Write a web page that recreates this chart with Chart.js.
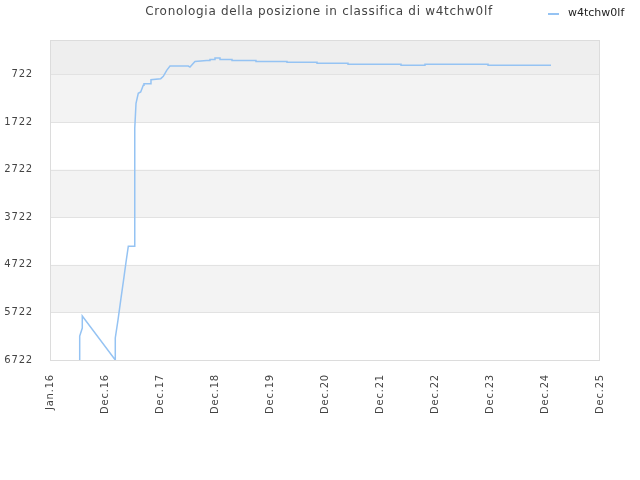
<!DOCTYPE html>
<html>
<head>
<meta charset="utf-8">
<script src="https://cdn.jsdelivr.net/npm/chart.js@4/dist/chart.umd.min.js"></script>
<style>
html,body{margin:0;padding:0;background:#fff;}
#wrap{width:640px;height:480px;}
</style>
</head>
<body>
<div id="wrap"><canvas id="c" width="640" height="480"></canvas></div>
<script>
const chartTitle = 'Cronologia della posizione in classifica di w4tchw0lf';
const seriesName = 'w4tchw0lf';
const xTickLabels = ['Jan.16','Dec.16','Dec.17','Dec.18','Dec.19','Dec.20','Dec.21','Dec.22','Dec.23','Dec.24','Dec.25'];
const yTickValues = [722,1722,2722,3722,4722,5722,6722];
const bandBounds = [0,722,1722,2722,3722,4722,5722,6722];
const bandColors = ['#eeeeee','#f3f3f3','#ffffff','#f3f3f3','#ffffff','#f3f3f3','#ffffff'];
// x in axis-label units (0 = Jan.16, 1 = Dec.16, ...), y = rank
const posX = [0.540,0.540,0.587,0.587,1.187,1.187,1.236,1.291,1.345,1.382,1.424,1.533,1.533,1.545,1.545,1.564,1.605,1.649,1.696,1.709,1.836,1.836,2.013,2.060,2.122,2.182,2.515,2.545,2.636,2.849,2.909,2.909,3.000,3.000,3.091,3.091,3.309,3.309,3.745,3.745,4.309,4.309,4.855,4.855,5.418,5.418,6.382,6.382,6.818,6.818,7.964,7.964,9.109];
const rank = [6722,6219,6051,5799,6722,6260,5883,5421,4981,4666,4330,4330,4204,4204,1855,1330,1120,1093,952,917,917,833,812,764,638,548,548,569,450,429,429,408,408,380,380,408,408,429,429,450,450,470,470,491,491,512,512,533,533,512,512,533,533];

const points = posX.map((x,i)=>({x:x,y:rank[i]}));

const bandsPlugin = {
  id:'bands',
  beforeDraw(chart){
    chart.ctx.letterSpacing = '0.8px';
  },
  beforeDatasetsDraw(chart){
    const {ctx, chartArea:a, scales:{y}} = chart;
    ctx.save();
    for(let i=0;i<bandColors.length;i++){
      const y1 = y.getPixelForValue(bandBounds[i]);
      const y2 = y.getPixelForValue(bandBounds[i+1]);
      ctx.fillStyle = bandColors[i];
      ctx.fillRect(a.left, Math.min(y1,y2), a.right-a.left, Math.abs(y2-y1));
    }
    ctx.strokeStyle = '#e2e2e2';
    ctx.lineWidth = 1;
    yTickValues.forEach(v=>{
      const py = Math.round(y.getPixelForValue(v))+0.5;
      ctx.beginPath(); ctx.moveTo(a.left,py); ctx.lineTo(a.right,py); ctx.stroke();
    });
    ctx.strokeStyle = '#dcdcdc';
    ctx.strokeRect(a.left+0.5, a.top+0.5, a.right-a.left-1, a.bottom-a.top);
    ctx.restore();
  },
  afterDraw(chart){
    const ctx = chart.ctx;
    ctx.save();
    ctx.letterSpacing = '0.7px';
    ctx.font = '12px "DejaVu Sans"';
    ctx.fillStyle = '#444';
    ctx.textAlign = 'center';
    ctx.textBaseline = 'middle';
    ctx.fillText(chartTitle, 319, 12);
    ctx.strokeStyle = '#95c3f3';
    ctx.lineWidth = 2;
    ctx.beginPath(); ctx.moveTo(548,14); ctx.lineTo(559,14); ctx.stroke();
    ctx.letterSpacing = '0px';
    ctx.font = '11px "DejaVu Sans"';
    ctx.fillStyle = '#222';
    ctx.textAlign = 'left';
    ctx.fillText(seriesName, 568, 13);
    ctx.restore();
  }
};

new Chart(document.getElementById('c'), {
  type:'line',
  data:{datasets:[{label:seriesName,data:points,borderColor:'#95c3f3',borderWidth:1.5,pointRadius:0,fill:false,tension:0}]},
  options:{
    responsive:false,
    animation:false,
    layout:{padding:{top:40,right:40,left:0,bottom:0}},
    plugins:{legend:{display:false},title:{display:false},tooltip:{enabled:false}},
    scales:{
      x:{type:'linear',min:0,max:10,
        afterBuildTicks(s){ s.ticks = xTickLabels.map((_,i)=>({value:i})); },
        afterFit(s){ s.height = 120; },
        grid:{display:false},
        border:{display:false},
        ticks:{minRotation:90,maxRotation:90,autoSkip:false,padding:6,color:'#444',font:{family:'DejaVu Sans',size:10},
          callback:(v)=>xTickLabels[v]}
      },
      y:{type:'linear',reverse:true,min:0,max:6722,
        afterBuildTicks(s){ s.ticks = yTickValues.map(v=>({value:v})); },
        afterFit(s){ s.width = 50; },
        grid:{display:false},
        border:{display:false},
        ticks:{padding:9,color:'#444',font:{family:'DejaVu Sans',size:10},callback:(v)=>String(v)}
      }
    }
  },
  plugins:[bandsPlugin]
});
</script>
</body>
</html>
